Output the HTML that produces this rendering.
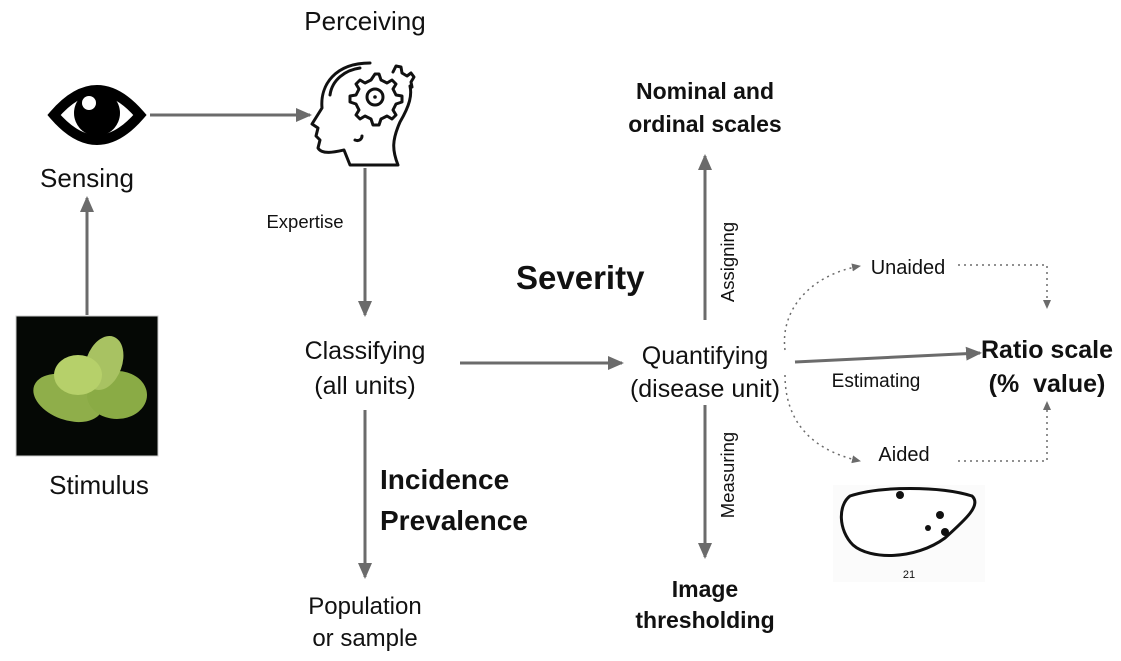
<!DOCTYPE html>
<html><head><meta charset="utf-8"><style>
html,body{margin:0;padding:0;background:#fff;}
svg{display:block;}
text{font-family:"Liberation Sans",sans-serif;fill:#111;}
.b{font-weight:bold;}
</style></head><body>
<svg width="1121" height="661" viewBox="0 0 1121 661" xmlns="http://www.w3.org/2000/svg">
<defs>
<marker id="ah" markerWidth="16" markerHeight="14" refX="14" refY="7" orient="auto" markerUnits="userSpaceOnUse"><path d="M0,0 L16,7 L0,14 z" fill="#6b6b6b"/></marker>
<marker id="as" markerWidth="9" markerHeight="8" refX="8" refY="4" orient="auto" markerUnits="userSpaceOnUse"><path d="M0,0 L9,4 L0,8 z" fill="#6b6b6b"/></marker>
</defs>
<g stroke="#6b6b6b" stroke-width="3" fill="none">
<line x1="150" y1="115" x2="310" y2="115" marker-end="url(#ah)"/>
<line x1="87" y1="315" x2="87" y2="198" marker-end="url(#ah)"/>
<line x1="365" y1="168" x2="365" y2="315" marker-end="url(#ah)"/>
<line x1="365" y1="410" x2="365" y2="577" marker-end="url(#ah)"/>
<line x1="460" y1="363" x2="622" y2="363" marker-end="url(#ah)"/>
<line x1="705" y1="320" x2="705" y2="156" marker-end="url(#ah)"/>
<line x1="705" y1="405" x2="705" y2="557" marker-end="url(#ah)"/>
<line x1="795" y1="362" x2="980" y2="353" marker-end="url(#ah)"/>
</g>
<g stroke="#6b6b6b" stroke-width="1.5" fill="none" stroke-dasharray="2,4">
<path d="M785,350 C780,310 810,275 860,266" marker-end="url(#as)"/>
<path d="M785,375 C785,420 810,450 860,461" marker-end="url(#as)"/>
<path d="M958,265 L1047,265 L1047,308" marker-end="url(#as)"/>
<path d="M958,461 L1047,461 L1047,402" marker-end="url(#as)"/>
</g>
<!-- eye -->
<path d="M54,115 Q97,65 140,115 Q97,165 54,115 z" fill="none" stroke="#000" stroke-width="10"/>
<circle cx="97" cy="113" r="23" fill="#000"/>
<circle cx="89" cy="103" r="7" fill="#fff"/>
<!-- head -->
<g fill="none" stroke="#111" stroke-width="3" stroke-linecap="round" stroke-linejoin="round">
<path d="M370,63 C335,63 320,85 322,108 L312,124 L318,128 L316,136 L320,140 L318,148 C322,155 335,152 344,150 L350,165 L398,165 C392,150 392,140 400,122 C410,105 412,95 410,86"/>
<path d="M330,95 C332,80 345,70 360,68"/>
<path d="M375,74 l4,0 l2,6 l6,3 l5,-3 l4,4 l-3,5 l3,6 l6,1 l0,6 l-6,2 l-3,6 l3,5 l-4,4 l-5,-3 l-6,3 l-2,6 l-6,0 l-2,-6 l-6,-3 l-5,3 l-4,-4 l3,-5 l-3,-6 l-6,-2 l0,-6 l6,-1 l3,-6 l-3,-5 l4,-4 l5,3 l6,-3 z"/>
<circle cx="375" cy="97" r="8"/>
<path d="M393,72 l3,-6 l5,1 l1,6 l5,3 l4,-3 l3,4 l-3,5 l1,5"/>
<path d="M355,140 C360,142 362,138 362,136"/>
</g>
<circle cx="375" cy="97" r="1.8" fill="#111"/>
<!-- stimulus image -->
<rect x="16" y="316" width="142" height="140" fill="#050805" stroke="#ccc"/>
<ellipse cx="68" cy="398" rx="36" ry="22" fill="#8fae4a" transform="rotate(20 68 398)"/>
<ellipse cx="117" cy="395" rx="30" ry="24" fill="#8aab45"/>
<ellipse cx="104" cy="363" rx="18" ry="28" fill="#a8c262" transform="rotate(20 104 363)"/>
<ellipse cx="78" cy="375" rx="24" ry="20" fill="#b6d06a"/>
<!-- thresholding image -->
<rect x="833" y="485" width="152" height="97" fill="#fbfbfb"/>
<path d="M850,496 C880,486 940,486 972,496 C982,505 965,520 945,538 C915,560 870,560 853,545 C838,530 838,505 850,496 z" fill="#fff" stroke="#111" stroke-width="3"/>
<circle cx="940" cy="515" r="4" fill="#111"/><circle cx="928" cy="528" r="3" fill="#111"/><circle cx="945" cy="532" r="4" fill="#111"/><circle cx="900" cy="495" r="4" fill="#111"/>
<text x="909" y="578" font-size="11" text-anchor="middle" fill="#333">21</text>
<!-- labels -->
<text x="365" y="30" font-size="26" text-anchor="middle">Perceiving</text>
<text x="87" y="187" font-size="26" text-anchor="middle">Sensing</text>
<text x="99" y="494" font-size="26" text-anchor="middle">Stimulus</text>
<text x="305" y="228" font-size="18.5" text-anchor="middle">Expertise</text>
<text x="365" y="359" font-size="25" text-anchor="middle">Classifying</text>
<text x="365" y="394" font-size="25" text-anchor="middle">(all units)</text>
<text x="380" y="489" font-size="28" class="b">Incidence</text>
<text x="380" y="530" font-size="28" class="b">Prevalence</text>
<text x="365" y="614" font-size="24" text-anchor="middle">Population</text>
<text x="365" y="646" font-size="24" text-anchor="middle">or sample</text>
<text x="705" y="364" font-size="25" text-anchor="middle">Quantifying</text>
<text x="705" y="397" font-size="25" text-anchor="middle">(disease unit)</text>
<text x="705" y="99" font-size="23" text-anchor="middle" class="b">Nominal and</text>
<text x="705" y="132" font-size="23" text-anchor="middle" class="b">ordinal scales</text>
<text x="516" y="289" font-size="33" class="b">Severity</text>
<text x="705" y="597" font-size="23" text-anchor="middle" class="b">Image</text>
<text x="705" y="628" font-size="23" text-anchor="middle" class="b">thresholding</text>
<text font-size="18.5" text-anchor="middle" transform="translate(734 262) rotate(-90)">Assigning</text>
<text font-size="18.5" text-anchor="middle" transform="translate(734 475) rotate(-90)">Measuring</text>
<text x="876" y="387" font-size="19" text-anchor="middle">Estimating</text>
<text x="908" y="274" font-size="20" text-anchor="middle">Unaided</text>
<text x="904" y="461" font-size="20" text-anchor="middle">Aided</text>
<text x="1047" y="358" font-size="25" text-anchor="middle" class="b">Ratio scale</text>
<text x="1047" y="392" font-size="25" text-anchor="middle" class="b" xml:space="preserve">(%  value)</text>
</svg>
</body></html>
